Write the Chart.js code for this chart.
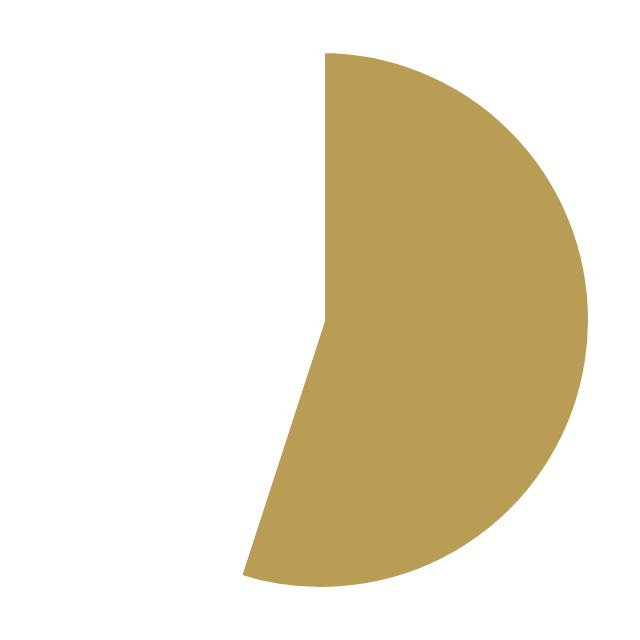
<!DOCTYPE html>
<html>
<head>
<meta charset="utf-8">
<script src="https://cdn.jsdelivr.net/npm/chart.js@4"></script>
<style>
  html, body { margin: 0; padding: 0; background: #fff; }
  #wrap { width: 640px; height: 640px; }
</style>
</head>
<body>
<div id="wrap"><canvas id="pieChart"></canvas></div>
<script>
// Slice data
const labels = ['A', 'B'];
const values = [55, 45];
const colors = ['#BA9D54', '#FFFFFF'];

const ctx = document.getElementById('pieChart').getContext('2d');
new Chart(ctx, {
    type: 'pie',
    data: {
        labels: labels,
        datasets: [{
            data: values,
            backgroundColor: colors,
            borderColor: '#FFFFFF',
            borderWidth: 8
        }]
    },
    options: {
        responsive: true,
        maintainAspectRatio: false,
        animation: false,
        layout: { padding: { left: 46, right: 44, top: 45, bottom: 45 } },
        plugins: {
            legend: { display: false },
            tooltip: { enabled: false }
        }
    }
});
</script>
</body>
</html>
